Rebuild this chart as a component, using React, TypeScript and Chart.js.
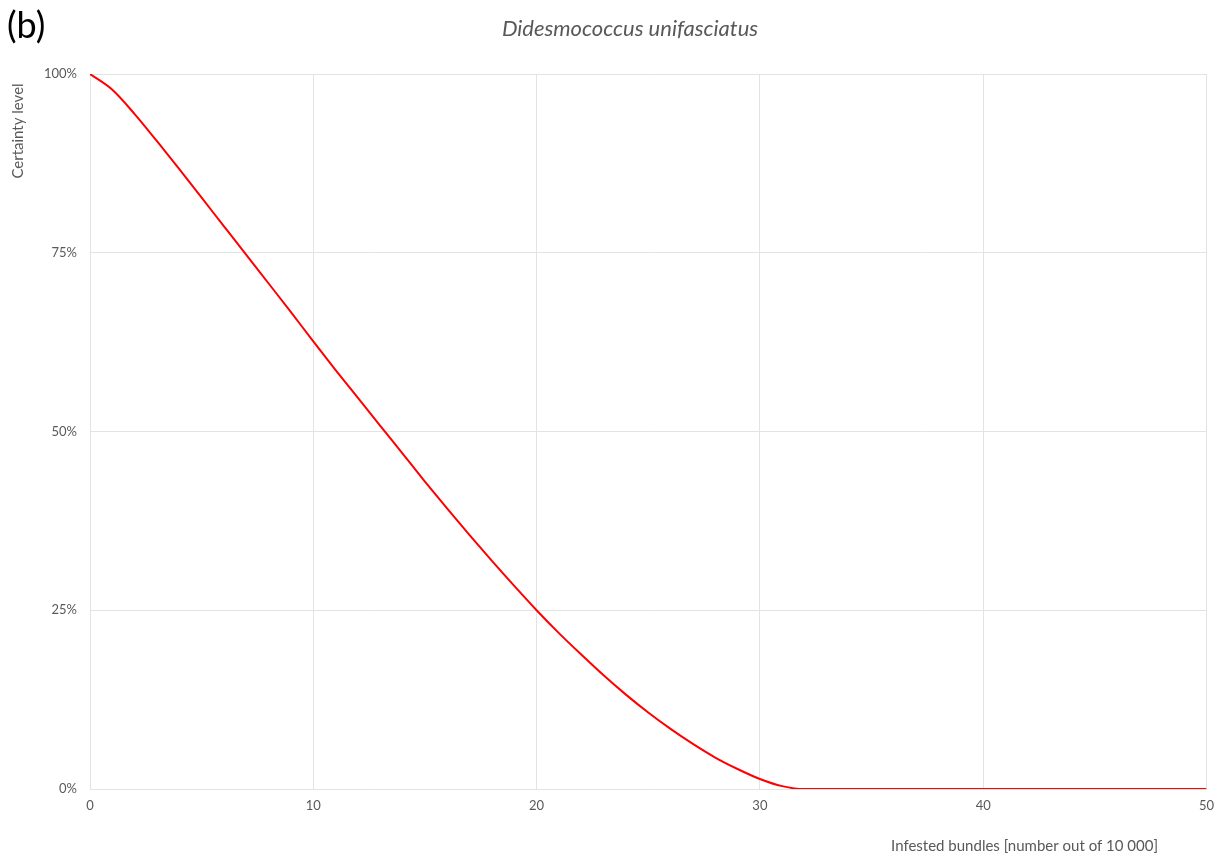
import React, { useEffect, useRef } from "react";
import { Chart, registerables } from "chart.js";

Chart.register(...registerables);

const xValues = [0,1,2,3,4,5,6,7,8,9,10,11,12,13,14,15,16,17,18,19,20,21,22,23,24,25,26,27,28,29,30,31,32,33,34,35,36,37,38,39,40,41,42,43,44,45,46,47,48,49,50];
const certainty = [100,97.8,94.4,90.6,86.7,82.7,78.7,74.7,70.7,66.7,62.6,58.6,54.7,50.8,46.9,43.0,39.2,35.5,31.9,28.4,25.0,21.8,18.8,15.9,13.2,10.7,8.4,6.3,4.4,2.8,1.4,0.4,0,0,0,0,0,0,0,0,0,0,0,0,0,0,0,0,0,0,0];
const xTicks = [0, 10, 20, 30, 40, 50];
const yTicks = [0, 25, 50, 75, 100];

const panelLabel = "(b)";
const chartTitle = "Didesmococcus unifasciatus";
const xTitle = "Infested bundles [number out of 10 000]";
const yTitle = "Certainty level";

const FONT = "Lato, 'Open Sans', sans-serif";
const GRAY = "#595959";
const GRID = "#e3e3e3";

export default function App() {
  const ref = useRef<HTMLCanvasElement | null>(null);
  useEffect(() => {
    document.body.style.margin = "0";
    const canvas = ref.current!;
    const textPlugin = {
      id: "texts",
      afterDraw(chart: any) {
        const ctx = chart.ctx as CanvasRenderingContext2D;
        ctx.save();
        ctx.fillStyle = "#000";
        ctx.font = `36px ${FONT}`;
        ctx.textAlign = "left";
        ctx.textBaseline = "middle";
        ctx.fillText(panelLabel, 7, 26);

        ctx.fillStyle = GRAY;
        ctx.font = `italic 22px ${FONT}`;
        ctx.textAlign = "center";
        ctx.fillText(chartTitle, 630, 29);

        ctx.font = `15px ${FONT}`;
        ctx.textAlign = "right";
        ctx.fillText(xTitle, 1158, 846);

        ctx.translate(18, 131);
        ctx.rotate(-Math.PI / 2);
        ctx.textAlign = "center";
        ctx.fillText(yTitle, 0, 0);
        ctx.restore();
      },
    };
    const chart = new Chart(canvas, {
      type: "line",
      data: {
        datasets: [
          {
            data: xValues.map((x, i) => ({ x, y: certainty[i] })),
            borderColor: "#ff0000",
            borderWidth: 2,
            pointRadius: 0,
            cubicInterpolationMode: "monotone",
            fill: false,
          },
        ],
      },
      options: {
        animation: false,
        responsive: false,
        maintainAspectRatio: false,
        layout: { padding: { left: 0, top: 74, right: 15, bottom: 0 } },
        plugins: { legend: { display: false }, tooltip: { enabled: false }, title: { display: false } },
        scales: {
          x: {
            type: "linear",
            min: 0,
            max: 50,
            afterFit: (s: any) => { s.height = 69; },
            afterBuildTicks: (s: any) => { s.ticks = xTicks.map((v) => ({ value: v })); },
            grid: { color: GRID, drawTicks: false, lineWidth: 1 },
            border: { color: GRID },
            ticks: { color: GRAY, font: { family: FONT, size: 13 }, padding: 9, maxRotation: 0 },
          },
          y: {
            type: "linear",
            min: 0,
            max: 100,
            afterFit: (s: any) => { s.width = 90; },
            afterBuildTicks: (s: any) => { s.ticks = yTicks.map((v) => ({ value: v })); },
            grid: { color: GRID, drawTicks: false, lineWidth: 1 },
            border: { color: GRID },
            ticks: { color: GRAY, font: { family: FONT, size: 13 }, padding: 13, callback: (v: any) => `${v}%` },
          },
        },
      },
      plugins: [textPlugin],
    } as any);
    return () => chart.destroy();
  }, []);
  return <canvas ref={ref} width={1223} height={858} style={{ display: "block" }} />;
}
